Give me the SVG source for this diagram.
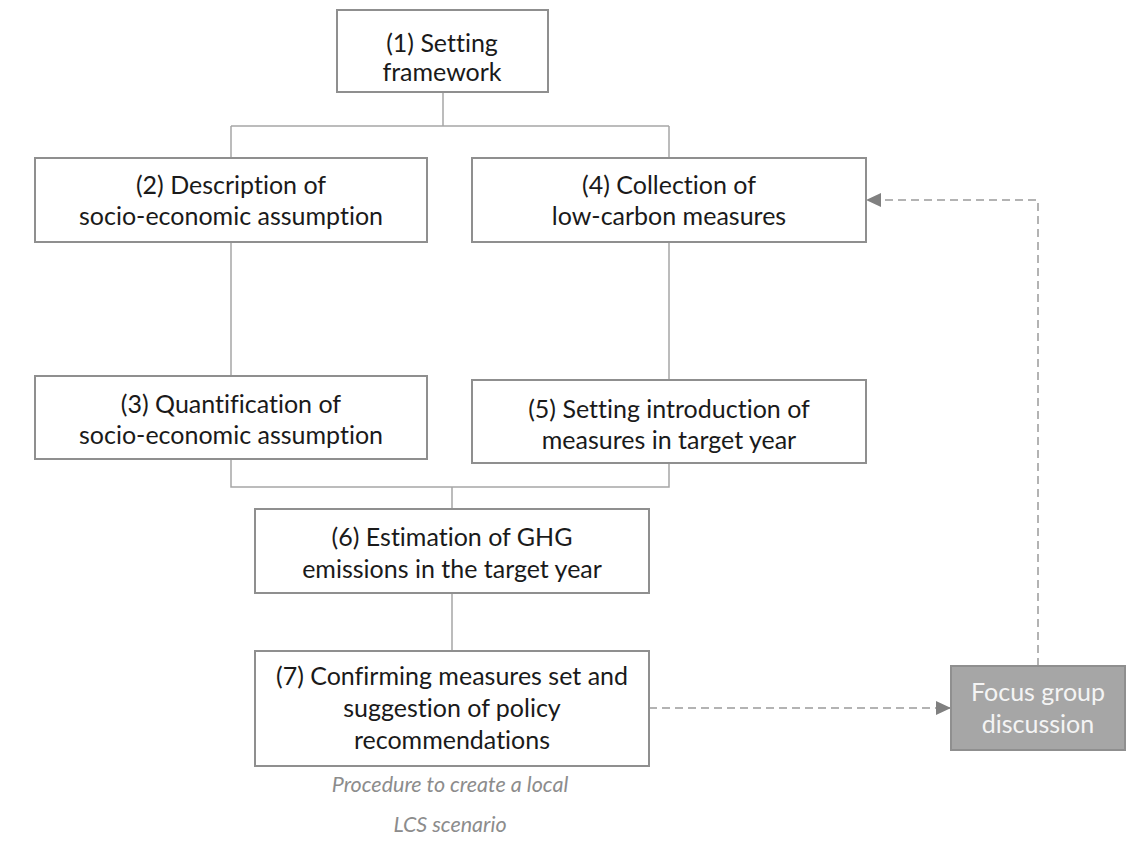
<svg xmlns="http://www.w3.org/2000/svg" width="1138" height="859" viewBox="0 0 1138 859">
<defs>
<style>
text{font-variant-ligatures:none}
.box{fill:#ffffff;stroke:#8f8f8f;stroke-width:2}
.fbox{fill:#a6a6a6;stroke:#8f8f8f;stroke-width:2}
.t{font-family:Lato,"Open Sans","Liberation Sans",sans-serif;font-size:25px;fill:#1a1a1a;text-anchor:middle}
.ft{font-family:Lato,"Open Sans","Liberation Sans",sans-serif;font-size:25px;fill:#f4f4f4;text-anchor:middle}
.cap{font-family:Lato,"Open Sans","Liberation Sans",sans-serif;font-size:21.5px;font-style:italic;fill:#8c8c8c;text-anchor:middle}
.ln{fill:none;stroke:#a6a6a6;stroke-width:1.5}
.dash{fill:none;stroke:#9a9a9a;stroke-width:1.5;stroke-dasharray:8 5}
</style>
<marker id="arr" markerUnits="userSpaceOnUse" markerWidth="16" markerHeight="14" refX="15" refY="7" orient="auto">
<path d="M0,0 L15,7 L0,14 Z" fill="#808080"/>
</marker>
</defs>
<rect width="1138" height="859" fill="#ffffff"/>
<g id="connectors">
<path class="ln" d="M443,92 V126 M231,126 H669 M231,126 V158 M669,126 V158"/>
<path class="ln" d="M231,242 V376 M669,242 V380"/>
<path class="ln" d="M231,459 V487 H669 V463 M452,487 V509"/>
<path class="ln" d="M452,593 V651"/>
<path class="dash" d="M649,708 H951" marker-end="url(#arr)"/>
<path class="dash" d="M1038,666 V200 H866" marker-end="url(#arr)"/>
</g>
<g id="n1">
<rect class="box" x="337" y="10" width="211" height="82"/>
<text class="t" x="442" y="52">(1) Setting</text>
<text class="t" x="442" y="81">framework</text>
</g>
<g id="n2">
<rect class="box" x="35" y="158" width="392" height="84"/>
<text class="t" x="231" y="194">(2) Description of</text>
<text class="t" x="231" y="225">socio-economic assumption</text>
</g>
<g id="n4">
<rect class="box" x="472" y="158" width="394" height="84"/>
<text class="t" x="669" y="194">(4) Collection of</text>
<text class="t" x="669" y="225">low-carbon measures</text>
</g>
<g id="n3">
<rect class="box" x="35" y="376" width="392" height="83"/>
<text class="t" x="231" y="413">(3) Quantification of</text>
<text class="t" x="231" y="444">socio-economic assumption</text>
</g>
<g id="n5">
<rect class="box" x="472" y="380" width="394" height="83"/>
<text class="t" x="669" y="418">(5) Setting introduction of</text>
<text class="t" x="669" y="449">measures in target year</text>
</g>
<g id="n6">
<rect class="box" x="255" y="509" width="394" height="84"/>
<text class="t" x="452" y="546">(6) Estimation of GHG</text>
<text class="t" x="452" y="578">emissions in the target year</text>
</g>
<g id="n7">
<rect class="box" x="255" y="651" width="394" height="115"/>
<text class="t" x="452" y="685">(7) Confirming measures set and</text>
<text class="t" x="452" y="717">suggestion of policy</text>
<text class="t" x="452" y="749">recommendations</text>
</g>
<g id="focus">
<rect class="fbox" x="951" y="666" width="174" height="84"/>
<text class="ft" x="1038" y="701">Focus group</text>
<text class="ft" x="1038" y="733">discussion</text>
</g>
<g id="caption">
<text class="cap" x="450" y="792">Procedure to create a local</text>
<text class="cap" x="450" y="832">LCS scenario</text>
</g>
</svg>
